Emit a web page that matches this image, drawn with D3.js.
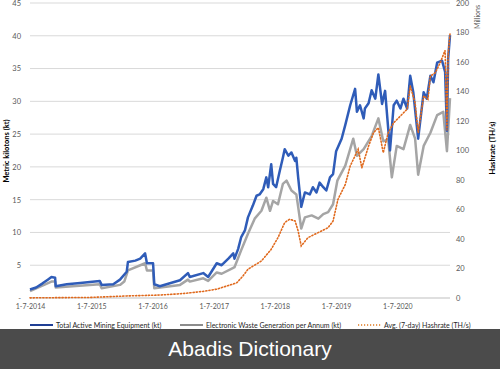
<!DOCTYPE html>
<html>
<head>
<meta charset="utf-8">
<script src="https://cdn.jsdelivr.net/npm/d3@7"></script>
<style>
  body { margin: 0; background: #fff; }
  svg { display: block; font-family: Lato, "Open Sans", sans-serif; }
</style>
</head>
<body>
<svg id="chart" width="500" height="369"></svg>
<script>
// x values are decimal years (2014.5 = 1 July 2014)

// Total active mining equipment (kt), left axis
const mining = [
  [2014.50, 1.3], [2014.60, 1.6], [2014.70, 2.2], [2014.79, 2.8], [2014.85, 3.2], [2014.91, 3.1],
  [2014.92, 1.8], [2015.10, 2.1], [2015.32, 2.3], [2015.64, 2.6], [2015.67, 2.0], [2015.86, 2.1],
  [2015.97, 2.8], [2016.08, 4.0], [2016.10, 5.5], [2016.22, 5.7], [2016.30, 6.0], [2016.38, 6.8],
  [2016.41, 5.3], [2016.51, 5.3], [2016.53, 2.1], [2016.62, 1.8], [2016.95, 2.7], [2017.08, 3.8],
  [2017.11, 3.2], [2017.33, 3.8], [2017.41, 3.2], [2017.55, 5.3], [2017.63, 5.0], [2017.74, 6.0],
  [2017.82, 6.8], [2017.84, 6.0], [2017.90, 7.5], [2017.95, 9.3], [2018.01, 10.3], [2018.06, 12.3],
  [2018.14, 14.1], [2018.20, 15.6], [2018.25, 15.8], [2018.31, 16.6], [2018.36, 18.4], [2018.39, 16.9],
  [2018.44, 20.4], [2018.47, 17.4], [2018.52, 16.9], [2018.58, 19.4], [2018.63, 21.4], [2018.66, 22.7],
  [2018.72, 21.7], [2018.77, 22.2], [2018.83, 20.9], [2018.85, 21.4], [2018.88, 18.4], [2018.93, 13.9],
  [2018.99, 16.1], [2019.07, 15.8], [2019.12, 16.9], [2019.18, 16.1], [2019.23, 17.6], [2019.29, 16.9],
  [2019.34, 16.4], [2019.40, 18.4], [2019.45, 18.9], [2019.50, 22.4], [2019.59, 24.3], [2019.65, 26.4],
  [2019.73, 29.4], [2019.81, 31.9], [2019.84, 28.4], [2019.89, 29.4], [2019.95, 27.4], [2019.97, 28.9],
  [2020.03, 29.7], [2020.08, 31.7], [2020.14, 30.4], [2020.19, 34.1], [2020.25, 29.6], [2020.30, 31.6],
  [2020.38, 22.5], [2020.44, 29.4], [2020.49, 30.1], [2020.55, 28.9], [2020.60, 30.4], [2020.66, 28.9],
  [2020.71, 33.9], [2020.76, 31.4], [2020.84, 24.3], [2020.93, 31.4], [2020.98, 30.4], [2021.04, 33.9],
  [2021.09, 32.9], [2021.15, 35.9], [2021.23, 36.2], [2021.28, 34.5], [2021.31, 25.5], [2021.33, 36.5],
  [2021.36, 40.1]
];

// Electronic waste generation per annum (kt), left axis
const ewaste = [
  [2014.50, 1.06], [2014.85, 2.5], [2014.91, 2.5], [2014.92, 1.6], [2015.64, 2.1], [2015.67, 1.5],
  [2015.97, 2.0], [2016.04, 2.5], [2016.10, 4.2], [2016.38, 5.3], [2016.41, 4.2], [2016.51, 4.2],
  [2016.53, 1.5], [2016.95, 2.0], [2017.08, 2.8], [2017.11, 2.5], [2017.33, 3.0], [2017.41, 2.6],
  [2017.55, 3.9], [2017.63, 3.7], [2017.82, 4.6], [2017.84, 4.7], [2017.95, 7.3], [2018.06, 9.8],
  [2018.17, 12.1], [2018.28, 13.3], [2018.36, 15.3], [2018.42, 13.3], [2018.47, 14.8], [2018.55, 14.3],
  [2018.63, 17.4], [2018.69, 17.9], [2018.77, 16.4], [2018.85, 15.8], [2018.88, 13.9], [2018.93, 10.6],
  [2018.99, 12.3], [2019.10, 12.6], [2019.21, 12.1], [2019.29, 12.8], [2019.37, 13.1], [2019.45, 14.3],
  [2019.52, 17.9], [2019.65, 20.2], [2019.78, 24.3], [2019.84, 21.7], [2019.95, 22.7], [2020.08, 24.7],
  [2020.19, 27.4], [2020.27, 23.9], [2020.35, 24.2], [2020.41, 18.4], [2020.49, 23.2], [2020.60, 22.7],
  [2020.71, 26.4], [2020.79, 24.3], [2020.84, 18.8], [2020.93, 23.2], [2021.04, 25.2], [2021.15, 27.9],
  [2021.25, 28.4], [2021.31, 22.4], [2021.36, 30.5]
];

// Avg. (7-day) hashrate, millions of TH/s, right axis
const hashrate = [
  [2014.50, 0.1], [2015.50, 0.4], [2016.08, 1.4], [2016.62, 2.0], [2017.00, 3.0], [2017.33, 4.5],
  [2017.55, 6.0], [2017.82, 9.5], [2017.88, 10.4], [2017.98, 15.0], [2018.06, 19.5], [2018.28, 25.1],
  [2018.44, 33.0], [2018.55, 40.9], [2018.66, 51.1], [2018.74, 53.4], [2018.83, 52.2], [2018.88, 45.4],
  [2018.93, 35.3], [2019.04, 40.9], [2019.15, 43.2], [2019.26, 45.4], [2019.37, 47.7], [2019.45, 52.2],
  [2019.53, 66.9], [2019.65, 77.0], [2019.73, 89.5], [2019.86, 100.8], [2019.92, 88.3], [2020.03, 103],
  [2020.11, 112], [2020.19, 115.5], [2020.27, 98.5], [2020.35, 112], [2020.44, 118.8], [2020.55, 123.4],
  [2020.66, 128], [2020.71, 143.7], [2020.79, 132.4], [2020.84, 112], [2020.93, 137], [2021.00, 134.7],
  [2021.04, 150.5], [2021.12, 152.7], [2021.20, 159.5], [2021.28, 168], [2021.31, 113.6], [2021.33, 165],
  [2021.36, 179]
];

const xTickYears = [2014.5, 2015.5, 2016.5, 2017.5, 2018.5, 2019.5, 2020.5];
const xTickLabels = ['1-7-2014', '1-7-2015', '1-7-2016', '1-7-2017', '1-7-2018', '1-7-2019', '1-7-2020'];
const leftTicks = [0, 5, 10, 15, 20, 25, 30, 35, 40, 45];
const rightTicks = [0, 20, 40, 60, 80, 100, 120, 140, 160, 180, 200];
const legendLabels = ['Total Active Mining Equipment (kt)', 'Electronic Waste Generation per Annum (kt)', 'Avg. (7-day) Hashrate (TH/s)'];

const svg = d3.select('#chart');
const plot = {left: 30, right: 450, top: 3, bottom: 298};

const x = d3.scaleLinear().domain([2014.5, 2021.36]).range([plot.left, plot.right]);
const yL = d3.scaleLinear().domain([0, 45]).range([plot.bottom, plot.top]);
const yR = d3.scaleLinear().domain([0, 200]).range([plot.bottom, plot.top]);

// gridlines
svg.append('g')
  .selectAll('line')
  .data(leftTicks.filter(d => d > 0))
  .join('line')
    .attr('x1', plot.left).attr('x2', plot.right)
    .attr('y1', d => yL(d)).attr('y2', d => yL(d))
    .attr('stroke', '#d9d9d9').attr('stroke-width', 1);

svg.append('line')
  .attr('x1', plot.left).attr('x2', plot.right)
  .attr('y1', plot.bottom).attr('y2', plot.bottom)
  .attr('stroke', '#bfbfbf');

// axes, text only
const tickColor = '#595959';
const gL = svg.append('g')
  .attr('transform', `translate(${plot.left - 6},0)`)
  .call(d3.axisLeft(yL).tickValues(leftTicks).tickSize(0).tickFormat(d => d === 0 ? '-' : d));
const gR = svg.append('g')
  .attr('transform', `translate(${plot.right + 3},0)`)
  .call(d3.axisRight(yR).tickValues(rightTicks).tickSize(0));
const gX = svg.append('g')
  .attr('transform', `translate(0,${plot.bottom + 3})`)
  .call(d3.axisBottom(x).tickValues(xTickYears).tickSize(0).tickFormat((d, i) => xTickLabels[i]));

[gL, gR, gX].forEach(g => {
  g.select('.domain').remove();
  g.selectAll('text').attr('fill', tickColor).attr('font-size', '7.5px').attr('font-family', 'Lato, sans-serif');
});
gX.selectAll('text').attr('font-size', '7px');

// series
const lineL = d3.line().x(d => x(d[0])).y(d => yL(d[1]));
const lineR = d3.line().x(d => x(d[0])).y(d => yR(d[1]));

svg.append('path').datum(ewaste)
  .attr('fill', 'none').attr('stroke', '#a5a5a5').attr('stroke-width', 2.5)
  .attr('stroke-linejoin', 'round').attr('d', lineL);
svg.append('path').datum(mining)
  .attr('fill', 'none').attr('stroke', '#2f5cb8').attr('stroke-width', 2.5)
  .attr('stroke-linejoin', 'round').attr('d', lineL);
svg.append('path').datum(hashrate)
  .attr('fill', 'none').attr('stroke', '#e06a1e').attr('stroke-width', 1.6)
  .attr('stroke-dasharray', '1.2,2').attr('stroke-linecap', 'round')
  .attr('d', lineR);

// axis titles
svg.append('text')
  .attr('transform', 'translate(9,151) rotate(-90)')
  .attr('text-anchor', 'middle').attr('font-size', '7.5px').attr('font-weight', 'bold')
  .attr('fill', '#000').text('Metric kilotons (kt)');
svg.append('text')
  .attr('transform', 'translate(495,148) rotate(-90)')
  .attr('text-anchor', 'middle').attr('font-size', '7.5px').attr('font-weight', 'bold')
  .attr('fill', '#000').text('Hashrate (TH/s)');
svg.append('text')
  .attr('transform', 'translate(480,5) rotate(-90)')
  .attr('text-anchor', 'end').attr('font-size', '7px')
  .attr('fill', tickColor).text('Millions');

// legend
const legend = [
  {x: 30, color: '#1f3f95', width: 2, dash: null},
  {x: 180, color: '#8c8c8c', width: 2, dash: null},
  {x: 358, color: '#e07a1e', width: 1.5, dash: '1.2,1.8'}
];
const lg = svg.append('g').attr('transform', 'translate(0,325)');
legend.forEach((l, i) => {
  lg.append('line')
    .attr('x1', l.x).attr('x2', l.x + 23).attr('y1', 0).attr('y2', 0)
    .attr('stroke', l.color).attr('stroke-width', l.width)
    .attr('stroke-dasharray', l.dash);
  lg.append('text')
    .attr('x', l.x + 26).attr('y', 2.5)
    .attr('font-size', '7px').attr('fill', '#262626')
    .text(legendLabels[i]);
});

// watermark banner
svg.append('rect')
  .attr('x', 0).attr('y', 329).attr('width', 500).attr('height', 40)
  .attr('fill', '#4b4b4b');
svg.append('text')
  .attr('x', 250).attr('y', 356)
  .attr('text-anchor', 'middle')
  .attr('font-family', '"Liberation Sans", Arial, sans-serif')
  .attr('font-size', '21px').attr('fill', '#fff')
  .text('Abadis Dictionary');
</script>
</body>
</html>
